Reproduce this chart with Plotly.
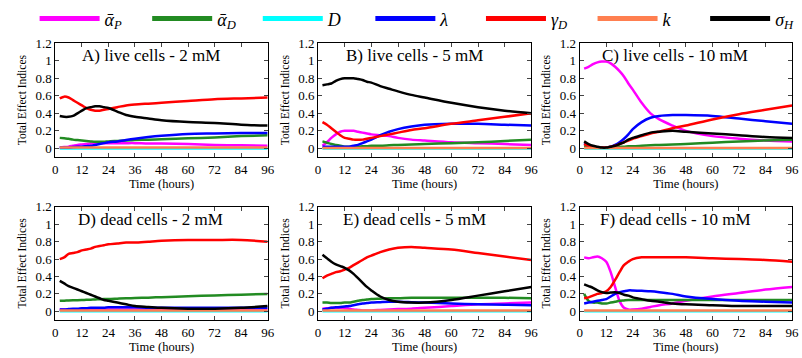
import plotly.graph_objects as go

T = [2, 4, 6, 8, 10, 12, 14, 16, 18, 20, 22, 24, 28, 32, 36, 42, 48, 60, 72, 84, 96]

# Panel A: live cells - 2 mM
A_aP = [.01, .015, .02, .03, .04, .045, .05, .055, .06, .06, .06, .06, .06, .06, .06, .055, .055, .05, .04, .035, .03]
A_aD = [.12, .115, .11, .10, .095, .09, .085, .08, .075, .075, .075, .08, .085, .09, .095, .10, .105, .115, .125, .14, .15]
A_D = [0] * 21
A_lam = [.01, .01, .01, .015, .02, .02, .025, .03, .04, .05, .06, .07, .08, .095, .11, .13, .145, .165, .17, .175, .175]
A_gD = [.57, .59, .58, .55, .52, .49, .46, .44, .43, .43, .44, .45, .47, .49, .50, .51, .52, .54, .56, .57, .58]
A_k = [.01] * 21
A_sH = [.37, .36, .36, .37, .40, .43, .46, .47, .48, .48, .47, .46, .42, .38, .36, .34, .32, .30, .29, .27, .26]

# Panel B: live cells - 5 mM
B_aP = [.03, .07, .12, .16, .19, .20, .20, .20, .19, .18, .17, .16, .15, .14, .12, .10, .09, .07, .06, .05, .04]
B_aD = [.08, .065, .05, .04, .03, .02, .02, .02, .02, .025, .025, .03, .03, .035, .04, .045, .05, .06, .07, .085, .10]
B_D = [0] * 21
B_lam = [.02, .02, .02, .02, .02, .02, .02, .03, .04, .06, .08, .10, .15, .19, .22, .25, .27, .28, .28, .27, .26]
B_gD = [.30, .27, .23, .19, .15, .12, .11, .10, .10, .10, .11, .12, .14, .16, .18, .21, .23, .28, .32, .36, .40]
B_k = [.005] * 21
B_sH = [.72, .73, .74, .77, .79, .80, .80, .80, .79, .78, .76, .75, .71, .68, .65, .61, .58, .52, .47, .43, .40]

# Panel C: live cells - 10 mM
C_aP = [.91, .93, .96, .98, .99, .99, .97, .93, .88, .82, .74, .67, .52, .40, .33, .26, .20, .14, .11, .09, .08]
C_aD = [.03, .02, .015, .01, .01, .01, .01, .015, .02, .02, .025, .025, .03, .035, .04, .045, .05, .065, .08, .09, .10]
C_D = [0] * 21
C_lam = [.06, .03, .02, .01, .01, .01, .02, .04, .07, .11, .16, .22, .30, .35, .37, .38, .38, .37, .34, .31, .28]
C_gD = [.05, .03, .02, .01, .01, .01, .02, .03, .05, .07, .09, .11, .14, .17, .19, .23, .26, .33, .39, .44, .49]
C_k = [.005] * 21
C_sH = [.08, .05, .03, .02, .01, .01, .02, .03, .05, .07, .10, .12, .15, .18, .19, .20, .19, .17, .15, .13, .12]

# Panel D: dead cells - 2 mM
D_aP = [.02] * 21
D_aD = [.12, .122, .125, .127, .128, .13, .132, .134, .136, .138, .14, .14, .145, .15, .152, .157, .162, .172, .182, .19, .20]
D_D = [0] * 21
D_lam = [.02, .02, .025, .03, .03, .035, .035, .04, .04, .04, .04, .045, .045, .045, .045, .04, .04, .04, .04, .04, .04]
D_gD = [.60, .62, .66, .67, .68, .70, .71, .72, .74, .75, .76, .77, .78, .79, .79, .80, .81, .82, .82, .82, .80]
D_k = [.01] * 21
D_sH = [.35, .32, .29, .27, .25, .23, .21, .19, .17, .15, .13, .12, .10, .08, .06, .05, .04, .03, .03, .04, .06]

# Panel E: dead cells - 5 mM
E_aP = [.03, .035, .04, .04, .04, .035, .03, .02, .015, .01, .01, .01, .015, .02, .025, .03, .04, .06, .08, .09, .10]
E_aD = [.10, .10, .095, .095, .095, .10, .10, .11, .12, .13, .135, .14, .145, .15, .15, .155, .155, .155, .155, .155, .15]
E_D = [0] * 21
E_lam = [.02, .03, .04, .045, .05, .055, .06, .07, .08, .09, .095, .10, .105, .11, .11, .105, .10, .09, .08, .075, .07]
E_gD = [.38, .41, .43, .45, .46, .48, .50, .53, .56, .59, .62, .64, .68, .71, .73, .74, .73, .71, .67, .63, .59]
E_k = [.01] * 21
E_sH = [.65, .61, .57, .54, .52, .50, .47, .43, .38, .33, .28, .24, .17, .13, .11, .10, .10, .13, .18, .23, .28]

# Panel F: dead cells - 10 mM
F_aP = [.62, .61, .62, .63, .61, .57, .45, .28, .12, .04, .02, .02, .03, .05, .07, .09, .12, .17, .21, .25, .28]
F_aD = [.20, .12, .10, .10, .09, .09, .10, .11, .12, .125, .13, .13, .13, .13, .13, .13, .13, .13, .13, .13, .13]
F_D = [0] * 21
F_lam = [.09, .10, .11, .12, .13, .14, .17, .20, .22, .23, .24, .24, .235, .23, .22, .20, .17, .14, .12, .11, .10]
F_gD = [.15, .16, .18, .20, .21, .23, .28, .36, .45, .53, .57, .60, .62, .62, .62, .62, .62, .61, .60, .59, .57]
F_k = [.01] * 21
F_sH = [.31, .29, .27, .24, .22, .21, .215, .22, .21, .19, .18, .16, .14, .12, .11, .09, .08, .07, .06, .06, .06]

series_names = ["<i>ᾱ</i><sub><i>P</i></sub>", "<i>ᾱ</i><sub><i>D</i></sub>", "<i>D</i>",
                "<i>λ</i>", "<i>γ</i><sub><i>D</i></sub>", "<i>k</i>", "<i>σ</i><sub><i>H</i></sub>"]
colors = ["#ff00ff", "#228b22", "#00ffff", "#0000ff", "#ff0000", "#ff7f50", "#000000"]
legend_line_starts = [42, 156, 268, 382, 494, 607, 721]

panels = [
    ("A) live cells - 2 mM", [A_aP, A_aD, A_D, A_lam, A_gD, A_k, A_sH]),
    ("B) live cells - 5 mM", [B_aP, B_aD, B_D, B_lam, B_gD, B_k, B_sH]),
    ("C) live cells - 10 mM", [C_aP, C_aD, C_D, C_lam, C_gD, C_k, C_sH]),
    ("D) dead cells - 2 mM", [D_aP, D_aD, D_D, D_lam, D_gD, D_k, D_sH]),
    ("E) dead cells - 5 mM", [E_aP, E_aD, E_D, E_lam, E_gD, E_k, E_sH]),
    ("F) dead cells - 10 mM", [F_aP, F_aD, F_D, F_lam, F_gD, F_k, F_sH]),
]

W, H = 802, 358
xdoms = [(53, 268), (319, 535), (584, 799)]
ydoms = [(35, 152), (203, 319)]

FONT = "Liberation Serif, DejaVu Serif, serif"
fig = go.Figure()
layout = dict(
    width=W, height=H, margin=dict(l=0, r=0, t=0, b=0),
    plot_bgcolor="white", paper_bgcolor="white",
    font=dict(family=FONT, color="black", size=12),
    showlegend=True,
    annotations=[],
)
for s in range(7):
    key = "legend" if s == 0 else f"legend{s + 1}"
    layout[key] = dict(orientation="h", x=(legend_line_starts[s] - 10) / W, y=1.025,
                       xanchor="left", yanchor="top", font=dict(size=18, family=FONT),
                       itemwidth=60, bgcolor="rgba(0,0,0,0)")

for i, (title, data) in enumerate(panels):
    r, c = divmod(i, 3)
    n = i + 1
    xa = "xaxis" if n == 1 else f"xaxis{n}"
    ya = "yaxis" if n == 1 else f"yaxis{n}"
    xr = "x" if n == 1 else f"x{n}"
    yr = "y" if n == 1 else f"y{n}"
    x0, x1 = xdoms[c]
    y0, y1 = ydoms[r]
    layout[xa] = dict(domain=[x0 / W, x1 / W], anchor=yr, range=[0, 96], tickvals=list(range(0, 97, 12)),
                      ticks="inside", ticklen=4, mirror="allticks", showline=True, linecolor="black",
                      linewidth=1, showgrid=False, zeroline=False, tickfont=dict(size=13, family=FONT),
                      title=dict(text="Time (hours)", font=dict(size=12.5, family=FONT), standoff=3))
    layout[ya] = dict(domain=[1 - y1 / H, 1 - y0 / H], anchor=xr, range=[-0.1, 1.2],
                      tickvals=[0, 0.2, 0.4, 0.6, 0.8, 1.0, 1.2], ticktext=["0", "0.2", "0.4", "0.6", "0.8", "1", "1.2"],
                      ticks="inside", ticklen=4, mirror="allticks", showline=True, linecolor="black",
                      linewidth=1, showgrid=False, zeroline=False, tickfont=dict(size=13, family=FONT),
                      title=dict(text="Total Effect Indices", font=dict(size=11.5, family=FONT), standoff=6))
    layout["annotations"].append(dict(text=title, xref=f"{xr} domain", yref=f"{yr} domain",
                                      x=0.45, y=0.99, xanchor="center", yanchor="top",
                                      showarrow=False, font=dict(size=17, family=FONT)))
    for s, vals in enumerate(data):
        fig.add_trace(go.Scatter(x=T, y=vals, mode="lines", xaxis=xr, yaxis=yr,
                                 line=dict(color=colors[s], width=2.5, shape="spline", smoothing=0.8),
                                 showlegend=False, hoverinfo="skip"))

for s in range(7):
    fig.add_trace(go.Scatter(x=[None], y=[None], mode="lines", name=series_names[s],
                             legend="legend" if s == 0 else f"legend{s + 1}",
                             line=dict(color=colors[s], width=5), showlegend=True))

fig.update_layout(**layout)
fig.write_html("out.html")
